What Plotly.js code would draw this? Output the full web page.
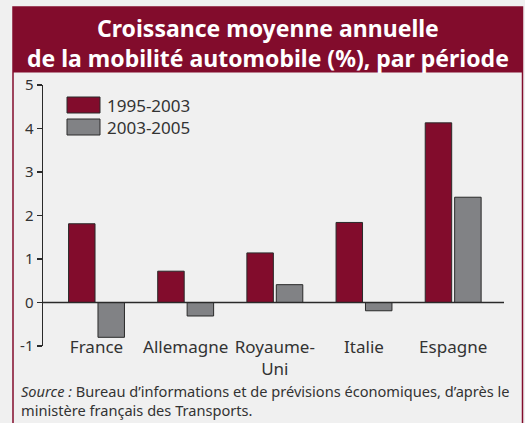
<!DOCTYPE html>
<html><head><meta charset="utf-8">
<script src="https://cdn.plot.ly/plotly-3.0.1.min.js"></script>
<style>html,body{margin:0;padding:0;background:#f0f0f0;}#chart{width:525px;height:423px;}</style>
</head><body><div id="chart"></div>
<script>
const categories = ["France", "Allemagne", "Royaume-<br>Uni", "Italie", "Espagne"];
const seriesNames = ["1995-2003", "2003-2005"];
const values1995_2003 = [1.81, 0.72, 1.14, 1.84, 4.13];
const values2003_2005 = [-0.80, -0.31, 0.41, -0.19, 2.42];
const yTicks = [-1, 0, 1, 2, 3, 4, 5];
const titleText = "Croissance moyenne annuelle<br>de la mobilité automobile (%), par période";
const sourceText = "<i>Source :</i> Bureau d’informations et de prévisions économiques, d’après le<br>ministère français des Transports.";

const RED = "#820c2c", GREY = "#818285", EDGE = "#2a2a2a", TXT = "#333333";
const FONT = "Noto Sans, Open Sans, sans-serif";

const W = 525, H = 423, L = 43, R = 21, T = 85, B = 77;
const pw = W - L - R, ph = H - T - B;
const px = x => (x - L) / pw;
const py = y => (H - B - y) / ph;

const traces = [
  {type: "bar", name: seriesNames[0], x: categories.map((c, i) => i), y: values1995_2003,
   marker: {color: RED, line: {color: EDGE, width: 1}}},
  {type: "bar", name: seriesNames[1], x: categories.map((c, i) => i), y: values2003_2005,
   marker: {color: GREY, line: {color: EDGE, width: 1}}}
];

const shapes = [
  {type: "rect", xref: "paper", yref: "paper", x0: px(13), x1: px(522.5), y0: py(430), y1: py(7),
   line: {color: RED, width: 1.5}, fillcolor: "rgba(0,0,0,0)", layer: "below"},
  {type: "rect", xref: "paper", yref: "paper", x0: px(13), x1: px(522.5), y0: py(72.5), y1: py(7),
   line: {width: 0}, fillcolor: RED, layer: "below"},
  {type: "line", xref: "paper", yref: "y", x0: 0, x1: 1, y0: 0, y1: 0, line: {color: EDGE, width: 1.5}},
  {type: "rect", xref: "paper", yref: "paper", x0: px(67), x1: px(100), y0: py(113), y1: py(97),
   line: {color: EDGE, width: 1}, fillcolor: RED},
  {type: "rect", xref: "paper", yref: "paper", x0: px(67), x1: px(100), y0: py(135), y1: py(119),
   line: {color: EDGE, width: 1}, fillcolor: GREY}
];

const annotations = [
  {xref: "paper", yref: "paper", x: px(267.5), y: py(43), xanchor: "center", yanchor: "middle",
   text: "<b>" + titleText + "</b>", showarrow: false, align: "center",
   font: {family: FONT, size: 23, color: "#ffffff"}},
  {xref: "paper", yref: "paper", x: px(105), y: py(105), xanchor: "left", yanchor: "middle",
   text: seriesNames[0], showarrow: false, font: {family: FONT, size: 17, color: TXT}},
  {xref: "paper", yref: "paper", x: px(105), y: py(127), xanchor: "left", yanchor: "middle",
   text: seriesNames[1], showarrow: false, font: {family: FONT, size: 17, color: TXT}},
  {xref: "paper", yref: "paper", x: px(19), y: py(400), xanchor: "left", yanchor: "middle",
   text: sourceText, showarrow: false, align: "left",
   font: {family: FONT, size: 14.6, color: TXT}}
];

const layout = {
  width: W, height: H,
  margin: {l: L, r: R, t: T, b: B, pad: 0},
  paper_bgcolor: "#f0f0f0", plot_bgcolor: "#f0f0f0",
  showlegend: false,
  barmode: "group", bargap: 0.34, bargroupgap: 0.1,
  xaxis: {range: [-0.6, 4.57], tickmode: "array", tickvals: categories.map((c, i) => i), ticktext: categories,
          anchor: "free", position: py(335),
          showline: false, showgrid: false, zeroline: false, ticks: "", fixedrange: true,
          tickfont: {family: FONT, size: 17, color: TXT}},
  yaxis: {range: [-1, 5], tickmode: "array", tickvals: yTicks, ticktext: yTicks.map(String),
          showline: true, linecolor: EDGE, linewidth: 1.5, ticks: "outside", ticklen: 5, tickcolor: EDGE,
          tickwidth: 1.5, showgrid: false, zeroline: false, fixedrange: true,
          tickfont: {family: FONT, size: 15, color: TXT}},
  shapes: shapes,
  annotations: annotations
};

Plotly.newPlot("chart", traces, layout, {displayModeBar: false, staticPlot: true});
</script>
</body></html>
